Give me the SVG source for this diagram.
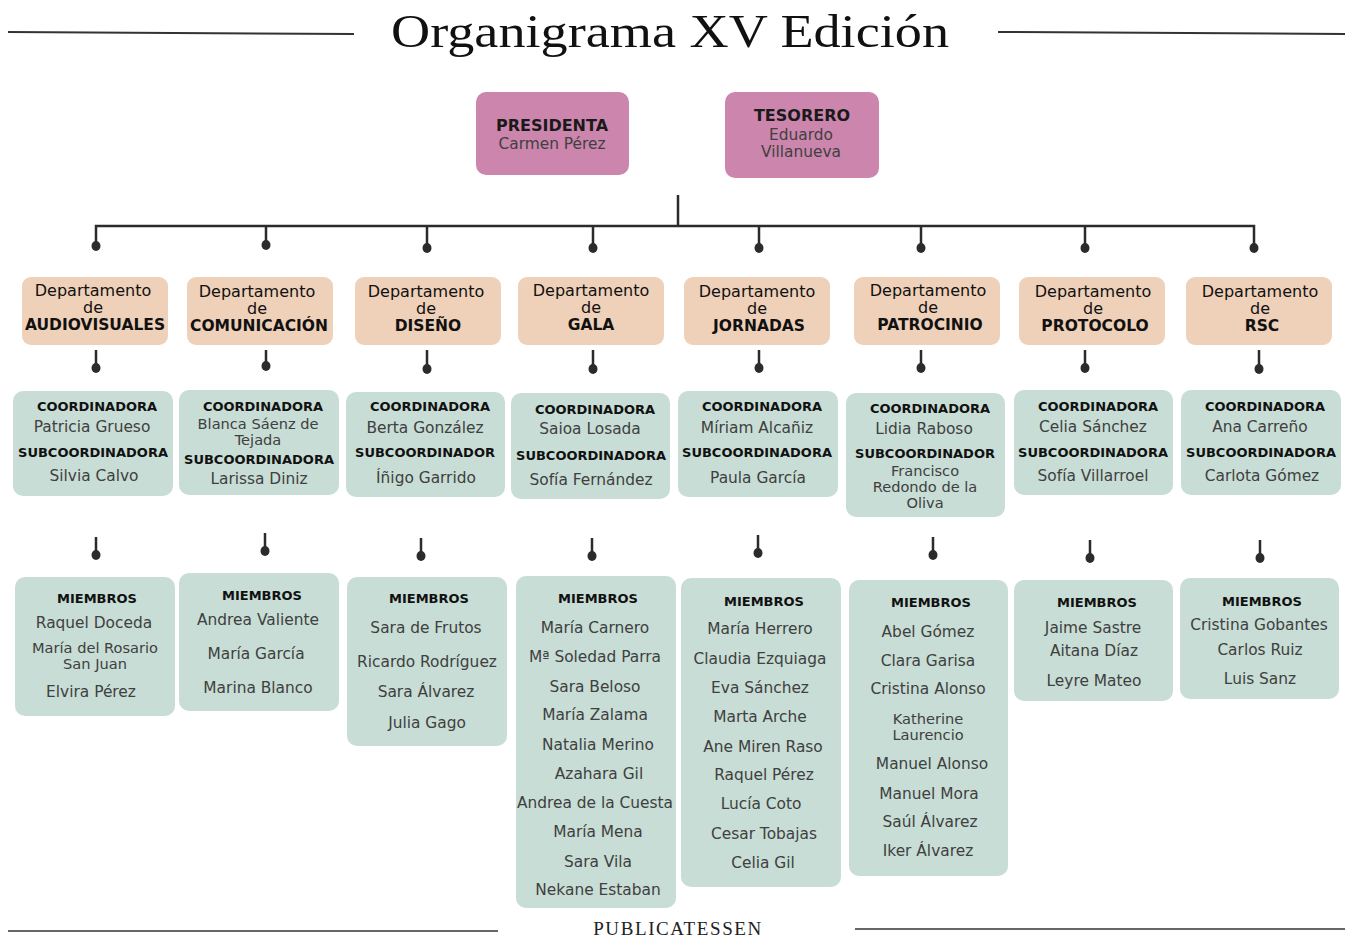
<svg xmlns="http://www.w3.org/2000/svg" width="1352" height="937" viewBox="0 0 1352 937">
<style>
.bg{fill:#ffffff}
.rule{stroke:#333;stroke-width:2;fill:none}
.title{font-family:"Liberation Serif","DejaVu Serif",serif;font-size:46px;fill:#111;text-anchor:middle}
.foot{font-family:"Liberation Serif","DejaVu Serif",serif;font-size:19px;fill:#222;text-anchor:middle;letter-spacing:1.6px}
.pink{fill:#cc85ad}
.peach{fill:#efd0b8}
.green{fill:#c7ddd5}
.h{font-family:"DejaVu Sans","Noto Sans",sans-serif;font-weight:bold;font-size:13px;fill:#111;text-anchor:middle}
.hb{font-family:"DejaVu Sans","Noto Sans",sans-serif;font-weight:bold;font-size:15.5px;fill:#111;text-anchor:middle}
.ht{font-family:"DejaVu Sans","Noto Sans",sans-serif;font-weight:bold;font-size:16px;fill:#1a1a1a;text-anchor:middle}
.n{font-family:"DejaVu Sans","Noto Sans",sans-serif;font-size:15.4px;fill:#404040;text-anchor:middle}
.w{font-family:"DejaVu Sans","Noto Sans",sans-serif;font-size:14.6px;fill:#404040;text-anchor:middle}
.d{font-family:"DejaVu Sans","Noto Sans",sans-serif;font-size:16px;fill:#111;text-anchor:middle}
.c{stroke:#2b2b2b;stroke-width:2.5;fill:none}
.dot{fill:#2b2b2b}
</style>
<rect class="bg" x="0" y="0" width="1352" height="937"/>
<g id="header">
<line class="rule" x1="8" y1="32" x2="354" y2="34"/>
<line class="rule" x1="998" y1="32" x2="1345" y2="34"/>
<text class="title" x="670" y="47" textLength="558" lengthAdjust="spacingAndGlyphs">Organigrama XV Edición</text>
</g>
<g id="connectors">
<path class="c" d="M678 195V226M96 245V226H1254V245M266 226V245M427 226V245M593 226V245M759 226V245M921 226V245M1085 226V245"/>
<g class="dot">
<ellipse cx="96" cy="246" rx="4.5" ry="5"/><ellipse cx="266" cy="245" rx="4.5" ry="5"/><ellipse cx="427" cy="248" rx="4.5" ry="5"/><ellipse cx="593" cy="248" rx="4.5" ry="5"/><ellipse cx="759" cy="248" rx="4.5" ry="5"/><ellipse cx="921" cy="248" rx="4.5" ry="5"/><ellipse cx="1085" cy="248" rx="4.5" ry="5"/><ellipse cx="1254" cy="248" rx="4.5" ry="5"/>
</g>
<path class="c" d="M96 350V366M266 350V364M427 350V367M593 350V367M759 350V366M921 350V366M1085 350V366M1259 350V367"/>
<g class="dot">
<ellipse cx="96" cy="368" rx="4.5" ry="5"/><ellipse cx="266" cy="366" rx="4.5" ry="5"/><ellipse cx="427" cy="369" rx="4.5" ry="5"/><ellipse cx="593" cy="369" rx="4.5" ry="5"/><ellipse cx="759" cy="368" rx="4.5" ry="5"/><ellipse cx="921" cy="368" rx="4.5" ry="5"/><ellipse cx="1085" cy="368" rx="4.5" ry="5"/><ellipse cx="1259" cy="369" rx="4.5" ry="5"/>
</g>
<path class="c" d="M96 537V553M265 533V549M421 538V554M592 538V554M758 535V551M933 537V553M1090 540V556M1260 540V556"/>
<g class="dot">
<ellipse cx="96" cy="555" rx="4.5" ry="5"/><ellipse cx="265" cy="551" rx="4.5" ry="5"/><ellipse cx="421" cy="556" rx="4.5" ry="5"/><ellipse cx="592" cy="556" rx="4.5" ry="5"/><ellipse cx="758" cy="553" rx="4.5" ry="5"/><ellipse cx="933" cy="555" rx="4.5" ry="5"/><ellipse cx="1090" cy="558" rx="4.5" ry="5"/><ellipse cx="1260" cy="558" rx="4.5" ry="5"/>
</g>
</g>
<g id="presidenta">
<rect class="pink" x="476" y="92" width="153" height="83" rx="10"/>
<text class="ht" x="552" y="131">PRESIDENTA</text>
<text class="n" x="552" y="149">Carmen Pérez</text>
</g>
<g id="tesorero">
<rect class="pink" x="725" y="92" width="154" height="86" rx="10"/>
<text class="ht" x="802" y="121">TESORERO</text>
<text class="n" x="801" y="140">Eduardo</text>
<text class="n" x="801" y="157">Villanueva</text>
</g>
<g id="dept-audiovisuales"><rect class="peach" x="22" y="277" width="146" height="68" rx="9"/><text class="d" x="93" y="296">Departamento</text><text class="d" x="93" y="313">de</text><text class="hb" x="95" y="330">AUDIOVISUALES</text></g>
<g id="dept-comunicacion"><rect class="peach" x="187" y="277" width="146" height="68" rx="9"/><text class="d" x="257" y="297">Departamento</text><text class="d" x="257" y="314">de</text><text class="hb" x="259" y="331">COMUNICACIÓN</text></g>
<g id="dept-diseno"><rect class="peach" x="355" y="277" width="146" height="68" rx="9"/><text class="d" x="426" y="297">Departamento</text><text class="d" x="426" y="314">de</text><text class="hb" x="428" y="331">DISEÑO</text></g>
<g id="dept-gala"><rect class="peach" x="518" y="277" width="146" height="68" rx="9"/><text class="d" x="591" y="296">Departamento</text><text class="d" x="591" y="313">de</text><text class="hb" x="591" y="330">GALA</text></g>
<g id="dept-jornadas"><rect class="peach" x="684" y="277" width="146" height="68" rx="9"/><text class="d" x="757" y="297">Departamento</text><text class="d" x="757" y="314">de</text><text class="hb" x="759" y="331">JORNADAS</text></g>
<g id="dept-patrocinio"><rect class="peach" x="854" y="277" width="146" height="68" rx="9"/><text class="d" x="928" y="296">Departamento</text><text class="d" x="928" y="313">de</text><text class="hb" x="930" y="330">PATROCINIO</text></g>
<g id="dept-protocolo"><rect class="peach" x="1019" y="277" width="146" height="68" rx="9"/><text class="d" x="1093" y="297">Departamento</text><text class="d" x="1093" y="314">de</text><text class="hb" x="1095" y="331">PROTOCOLO</text></g>
<g id="dept-rsc"><rect class="peach" x="1186" y="277" width="146" height="68" rx="9"/><text class="d" x="1260" y="297">Departamento</text><text class="d" x="1260" y="314">de</text><text class="hb" x="1262" y="331">RSC</text></g>
<g id="coord-audiovisuales"><rect class="green" x="13" y="391" width="160" height="105" rx="10"/><text class="h" x="97" y="411">COORDINADORA</text><text class="n" x="92" y="432">Patricia Grueso</text><text class="h" x="93" y="457">SUBCOORDINADORA</text><text class="n" x="94" y="481">Silvia Calvo</text></g>
<g id="coord-comunicacion"><rect class="green" x="179" y="390" width="160" height="105" rx="10"/><text class="h" x="263" y="411">COORDINADORA</text><text class="w" x="258" y="429">Blanca Sáenz de</text><text class="w" x="258" y="445">Tejada</text><text class="h" x="259" y="464">SUBCOORDINADORA</text><text class="n" x="259" y="484">Larissa Diniz</text></g>
<g id="coord-diseno"><rect class="green" x="346" y="392" width="159" height="105" rx="10"/><text class="h" x="430" y="411">COORDINADORA</text><text class="n" x="425" y="433">Berta González</text><text class="h" x="425" y="457">SUBCOORDINADOR</text><text class="n" x="426" y="483">Íñigo Garrido</text></g>
<g id="coord-gala"><rect class="green" x="511" y="393" width="159" height="106" rx="10"/><text class="h" x="595" y="414">COORDINADORA</text><text class="n" x="590" y="434">Saioa Losada</text><text class="h" x="591" y="460">SUBCOORDINADORA</text><text class="n" x="591" y="485">Sofía Fernández</text></g>
<g id="coord-jornadas"><rect class="green" x="678" y="391" width="160" height="106" rx="10"/><text class="h" x="762" y="411">COORDINADORA</text><text class="n" x="757" y="433">Míriam Alcañiz</text><text class="h" x="757" y="457">SUBCOORDINADORA</text><text class="n" x="758" y="483">Paula García</text></g>
<g id="coord-patrocinio"><rect class="green" x="846" y="393" width="159" height="124" rx="10"/><text class="h" x="930" y="413">COORDINADORA</text><text class="n" x="924" y="434">Lidia Raboso</text><text class="h" x="925" y="458">SUBCOORDINADOR</text><text class="w" x="925" y="476">Francisco</text><text class="w" x="925" y="492">Redondo de la</text><text class="w" x="925" y="508">Oliva</text></g>
<g id="coord-protocolo"><rect class="green" x="1014" y="390" width="159" height="105" rx="10"/><text class="h" x="1098" y="411">COORDINADORA</text><text class="n" x="1093" y="432">Celia Sánchez</text><text class="h" x="1093" y="457">SUBCOORDINADORA</text><text class="n" x="1093" y="481">Sofía Villarroel</text></g>
<g id="coord-rsc"><rect class="green" x="1181" y="390" width="160" height="105" rx="10"/><text class="h" x="1265" y="411">COORDINADORA</text><text class="n" x="1260" y="432">Ana Carreño</text><text class="h" x="1261" y="457">SUBCOORDINADORA</text><text class="n" x="1262" y="481">Carlota Gómez</text></g>
<g id="miembros-audiovisuales"><rect class="green" x="15" y="577" width="160" height="139" rx="10"/><text class="h" x="97" y="603">MIEMBROS</text><text class="n" x="94" y="628">Raquel Doceda</text><text class="w" x="95" y="653">María del Rosario</text><text class="w" x="95" y="669">San Juan</text><text class="n" x="91" y="697">Elvira Pérez</text></g>
<g id="miembros-comunicacion"><rect class="green" x="179" y="573" width="160" height="138" rx="10"/><text class="h" x="262" y="600">MIEMBROS</text><text class="n" x="258" y="625">Andrea Valiente</text><text class="n" x="256" y="659">María García</text><text class="n" x="258" y="693">Marina Blanco</text></g>
<g id="miembros-diseno"><rect class="green" x="347" y="577" width="160" height="169" rx="10"/><text class="h" x="429" y="603">MIEMBROS</text><text class="n" x="426" y="633">Sara de Frutos</text><text class="n" x="427" y="667">Ricardo Rodríguez</text><text class="n" x="426" y="697">Sara Álvarez</text><text class="n" x="427" y="728">Julia Gago</text></g>
<g id="miembros-gala"><rect class="green" x="516" y="576" width="160" height="332" rx="10"/><text class="h" x="598" y="603">MIEMBROS</text><text class="n" x="595" y="633">María Carnero</text><text class="n" x="595" y="662">Mª Soledad Parra</text><text class="n" x="595" y="692">Sara Beloso</text><text class="n" x="595" y="720">María Zalama</text><text class="n" x="598" y="750">Natalia Merino</text><text class="n" x="599" y="779">Azahara Gil</text><text class="n" x="595" y="808">Andrea de la Cuesta</text><text class="n" x="598" y="837">María Mena</text><text class="n" x="598" y="867">Sara Vila</text><text class="n" x="598" y="895">Nekane Estaban</text></g>
<g id="miembros-jornadas"><rect class="green" x="681" y="578" width="160" height="309" rx="10"/><text class="h" x="764" y="606">MIEMBROS</text><text class="n" x="760" y="634">María Herrero</text><text class="n" x="760" y="664">Claudia Ezquiaga</text><text class="n" x="760" y="693">Eva Sánchez</text><text class="n" x="760" y="722">Marta Arche</text><text class="n" x="763" y="752">Ane Miren Raso</text><text class="n" x="764" y="780">Raquel Pérez</text><text class="n" x="761" y="809">Lucía Coto</text><text class="n" x="764" y="839">Cesar Tobajas</text><text class="n" x="763" y="868">Celia Gil</text></g>
<g id="miembros-patrocinio"><rect class="green" x="849" y="580" width="159" height="296" rx="10"/><text class="h" x="931" y="607">MIEMBROS</text><text class="n" x="928" y="637">Abel Gómez</text><text class="n" x="928" y="666">Clara Garisa</text><text class="n" x="928" y="694">Cristina Alonso</text><text class="w" x="928" y="724">Katherine</text><text class="w" x="928" y="740">Laurencio</text><text class="n" x="932" y="769">Manuel Alonso</text><text class="n" x="929" y="799">Manuel Mora</text><text class="n" x="930" y="827">Saúl Álvarez</text><text class="n" x="928" y="856">Iker Álvarez</text></g>
<g id="miembros-protocolo"><rect class="green" x="1014" y="580" width="159" height="121" rx="10"/><text class="h" x="1097" y="607">MIEMBROS</text><text class="n" x="1093" y="633">Jaime Sastre</text><text class="n" x="1094" y="656">Aitana Díaz</text><text class="n" x="1094" y="686">Leyre Mateo</text></g>
<g id="miembros-rsc"><rect class="green" x="1180" y="578" width="159" height="121" rx="10"/><text class="h" x="1262" y="606">MIEMBROS</text><text class="n" x="1259" y="630">Cristina Gobantes</text><text class="n" x="1260" y="655">Carlos Ruiz</text><text class="n" x="1260" y="684">Luis Sanz</text></g>
<g id="footer">
<line x1="8" y1="931" x2="498" y2="931" stroke="#666" stroke-width="2"/>
<line x1="855" y1="929" x2="1345" y2="929" stroke="#666" stroke-width="2"/>
<text class="foot" x="678" y="935">PUBLICATESSEN</text>
</g>
</svg>
